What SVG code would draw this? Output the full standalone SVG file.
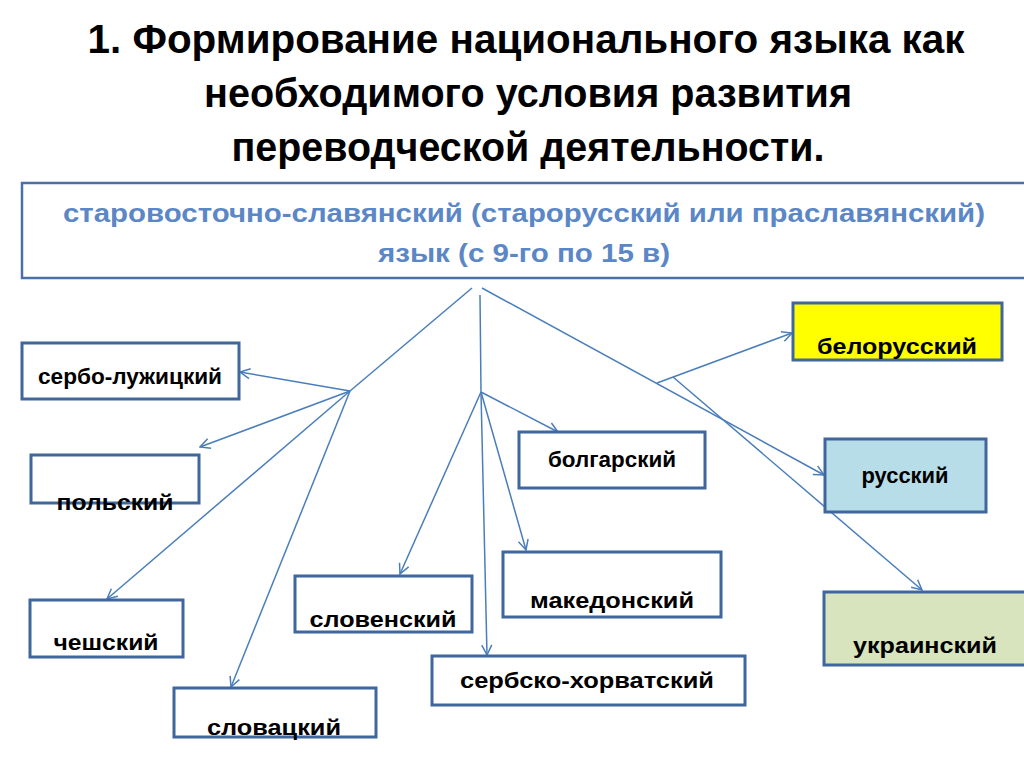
<svg xmlns="http://www.w3.org/2000/svg" width="1024" height="767" viewBox="0 0 1024 767">
<defs>
<style>
.title{font-family:"Liberation Sans",Arial,sans-serif;font-weight:bold;font-size:40px;fill:#000;text-anchor:middle}
.sub{font-family:"Liberation Sans",Arial,sans-serif;font-weight:bold;font-size:26px;fill:#5b87c6;text-anchor:middle}
.box{stroke:#3f679e;stroke-width:3;fill:#fff}
.lbl{font-family:"Liberation Sans",Arial,sans-serif;font-weight:bold;font-size:22px;fill:#000;text-anchor:middle}
.c{stroke:#4a7ebb;stroke-width:1.5;fill:none}
</style>
<marker id="arr" viewBox="0 0 12 12" refX="11" refY="6" markerWidth="12" markerHeight="12" markerUnits="userSpaceOnUse" orient="auto">
<path d="M1,1 L11,6 L1,11" fill="none" stroke="#4a7ebb" stroke-width="1.5"/>
</marker>
</defs>
<rect width="1024" height="767" fill="#fff"/>
<g id="title">
<text class="title" x="526" y="53" textLength="877" lengthAdjust="spacingAndGlyphs">1. Формирование национального языка как</text>
<text class="title" x="528" y="107" textLength="648" lengthAdjust="spacingAndGlyphs">необходимого условия развития</text>
<text class="title" x="528" y="161" textLength="593" lengthAdjust="spacingAndGlyphs">переводческой деятельности.</text>
</g>
<g id="root">
<rect x="22" y="183" width="1010" height="95" fill="#fff" stroke="#4a70a8" stroke-width="2.5"/>
<text class="sub" x="524" y="222" textLength="922" lengthAdjust="spacingAndGlyphs">старовосточно-славянский (старорусский или праславянский)</text>
<text class="sub" x="524" y="262" textLength="292" lengthAdjust="spacingAndGlyphs">язык (с 9-го по 15 в)</text>
</g>
<g id="connectors">
<line class="c" x1="472" y1="288" x2="350" y2="391"/>
<line class="c" x1="480" y1="295" x2="481" y2="392"/>
<line class="c" x1="482" y1="288" x2="824" y2="475" marker-end="url(#arr)"/>
<line class="c" x1="350" y1="391" x2="240" y2="372" marker-end="url(#arr)"/>
<line class="c" x1="350" y1="391" x2="200" y2="447" marker-end="url(#arr)"/>
<line class="c" x1="350" y1="391" x2="107" y2="599" marker-end="url(#arr)"/>
<line class="c" x1="350" y1="391" x2="231" y2="687" marker-end="url(#arr)"/>
<line class="c" x1="481" y1="392" x2="558" y2="432" marker-end="url(#arr)"/>
<line class="c" x1="481" y1="392" x2="400" y2="574" marker-end="url(#arr)"/>
<line class="c" x1="481" y1="392" x2="526" y2="550" marker-end="url(#arr)"/>
<line class="c" x1="481" y1="392" x2="487" y2="655" marker-end="url(#arr)"/>
<line class="c" x1="657" y1="383" x2="792" y2="333" marker-end="url(#arr)"/>
<line class="c" x1="673" y1="377" x2="922" y2="590" marker-end="url(#arr)"/>
</g>
<g id="n-serbo-luzh">
<rect class="box" x="22" y="343" width="217" height="56"/>
<text class="lbl" x="130" y="384" textLength="184" lengthAdjust="spacingAndGlyphs">сербо-лужицкий</text>
</g>
<g id="n-polish">
<rect class="box" x="31" y="455" width="168" height="48"/>
<text class="lbl" x="115" y="510" textLength="117" lengthAdjust="spacingAndGlyphs">польский</text>
</g>
<g id="n-czech">
<rect class="box" x="30" y="600" width="153" height="57"/>
<text class="lbl" x="106" y="650" textLength="105" lengthAdjust="spacingAndGlyphs">чешский</text>
</g>
<g id="n-slovak">
<rect class="box" x="174" y="688" width="202" height="49"/>
<text class="lbl" x="274" y="735" textLength="134" lengthAdjust="spacingAndGlyphs">словацкий</text>
</g>
<g id="n-slovene">
<rect class="box" x="295" y="576" width="177" height="56"/>
<text class="lbl" x="383" y="627" textLength="147" lengthAdjust="spacingAndGlyphs">словенский</text>
</g>
<g id="n-bulgarian">
<rect class="box" x="519" y="432" width="186" height="56"/>
<text class="lbl" x="612" y="467" textLength="128" lengthAdjust="spacingAndGlyphs">болгарский</text>
</g>
<g id="n-macedonian">
<rect class="box" x="503" y="552" width="218" height="65"/>
<text class="lbl" x="612" y="608" textLength="164" lengthAdjust="spacingAndGlyphs">македонский</text>
</g>
<g id="n-serbo-croat">
<rect class="box" x="432" y="656" width="313" height="49"/>
<text class="lbl" x="587" y="688" textLength="254" lengthAdjust="spacingAndGlyphs">сербско-хорватский</text>
</g>
<g id="n-belarusian">
<rect class="box" x="793" y="303" width="209" height="57" style="fill:#ffff00"/>
<text class="lbl" x="897" y="354" textLength="160" lengthAdjust="spacingAndGlyphs">белорусский</text>
</g>
<g id="n-russian">
<rect class="box" x="825" y="439" width="161" height="73" style="fill:#b7dde8"/>
<text class="lbl" x="905" y="483" textLength="87" lengthAdjust="spacingAndGlyphs">русский</text>
</g>
<g id="n-ukrainian">
<rect class="box" x="824" y="592" width="210" height="73" style="fill:#d7e4bd"/>
<text class="lbl" x="925" y="653" textLength="144" lengthAdjust="spacingAndGlyphs">украинский</text>
</g>
</svg>
